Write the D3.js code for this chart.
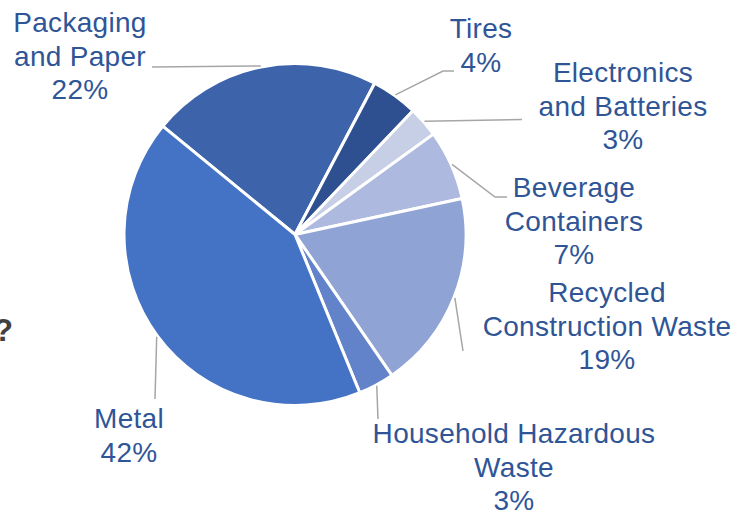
<!DOCTYPE html>
<html>
<head>
<meta charset="utf-8">
<script src="https://cdn.jsdelivr.net/npm/d3@7"></script>
<style>
  html, body { margin: 0; padding: 0; background: #ffffff; }
  svg { display: block; }
  text { font-family: "Liberation Sans", Arial, sans-serif; }
</style>
</head>
<body>
<svg id="chart" width="747" height="510"></svg>
<script>
// ---- data ----
const categories = ["Packaging and Paper", "Tires", "Electronics and Batteries", "Beverage Containers",
                    "Recycled Construction Waste", "Household Hazardous Waste", "Metal"];
const values = [21.8, 4.4, 2.9, 6.6, 18.8, 3.4, 42.1];
const labelLines = [["Packaging", "and Paper"], ["Tires"], ["Electronics", "and Batteries"],
                    ["Beverage", "Containers"], ["Recycled", "Construction Waste"],
                    ["Household Hazardous", "Waste"], ["Metal"]];

// ---- styles / layout ----
const colors = ["#3D64AB", "#2E5090", "#C7CFE6", "#ADB9DE", "#8FA3D4", "#6283C9", "#4472C4"];
const cx = 295, cy = 234.5, R = 171;
const startDeg = -50.7;
// label text anchor (center x, first baseline) and leader elbow/end points
const labelLayout = [
  { tx: 80,  ty: 32,  pts: [[152, 67]] },
  { tx: 481, ty: 38,  pts: [[443, 71], [454, 71]] },
  { tx: 623, ty: 82,  pts: [[522, 119.5]] },
  { tx: 574, ty: 197, pts: [[495, 197], [507, 197]] },
  { tx: 607, ty: 302, pts: [[463, 351]] },
  { tx: 514, ty: 443, pts: [[378, 419]] },
  { tx: 129, ty: 428, pts: [[155, 399]] }
];
const lineH = 33.5;

const svg = d3.select("#chart");
const data = categories.map((c, i) => ({ name: c, value: values[i], lines: labelLines[i], i }));

const pie = d3.pie().value(d => d.value).sort(null)
  .startAngle(startDeg * Math.PI / 180)
  .endAngle(startDeg * Math.PI / 180 + 2 * Math.PI);
const arc = d3.arc().innerRadius(0).outerRadius(R);
const arcs = pie(data);

const g = svg.append("g").attr("transform", `translate(${cx},${cy})`);
g.selectAll("path.slice").data(arcs).enter().append("path")
  .attr("class", "slice")
  .attr("d", arc)
  .attr("fill", d => colors[d.data.i])
  .attr("stroke", "#ffffff")
  .attr("stroke-width", 3)
  .attr("stroke-linejoin", "round");

// leader lines
const edge = d3.arc().innerRadius(R + 1).outerRadius(R + 1);
arcs.forEach(a => {
  const m = (a.startAngle + a.endAngle) / 2;
  const sx = cx + (R + 1) * Math.sin(m), sy = cy - (R + 1) * Math.cos(m);
  const L = labelLayout[a.data.i];
  const pts = [[sx, sy]].concat(L.pts);
  svg.append("path")
    .attr("d", d3.line()(pts))
    .attr("fill", "none")
    .attr("stroke", "#A6A6A6")
    .attr("stroke-width", 1.5);
});

// labels
arcs.forEach(a => {
  const L = labelLayout[a.data.i];
  const t = svg.append("text")
    .attr("text-anchor", "middle")
    .attr("fill", "#2F5597")
    .attr("font-size", 28)
    .attr("letter-spacing", "0.3px");
  const lines = a.data.lines.concat([Math.round(a.data.value) + "%"]);
  lines.forEach((ln, k) => {
    t.append("tspan").attr("x", L.tx).attr("y", L.ty + k * lineH).text(ln);
  });
});

// clipped title fragment at left edge
svg.append("text")
  .attr("x", 13).attr("y", 341)
  .attr("text-anchor", "end")
  .attr("font-size", 32)
  .attr("font-weight", "bold")
  .attr("fill", "#404040")
  .text("?");
</script>
</body>
</html>
